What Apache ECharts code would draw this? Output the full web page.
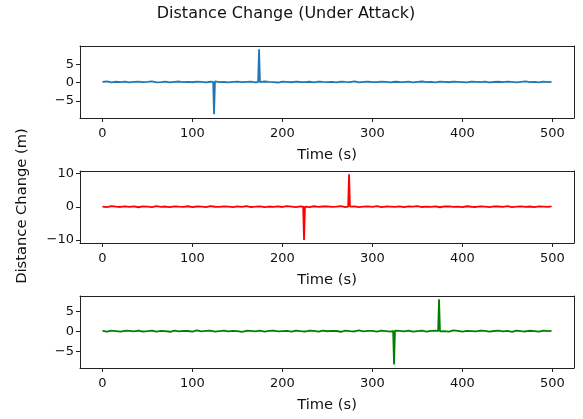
<!DOCTYPE html>
<html>
<head>
<meta charset="utf-8">
<script src="https://cdn.jsdelivr.net/npm/echarts@6/dist/echarts.min.js"></script>
<style>html,body{margin:0;padding:0;background:#fff;}#c{width:583px;height:419px;}</style>
</head>
<body>
<div id="c"></div>
<script>
var baseTime = [0,5,10,15,20,25,30,35,40,45,50,55,60,65,70,75,80,85,90,95,
100,105,110,115,120,125,130,135,140,145,150,155,160,165,170,175,180,185,190,195,
200,205,210,215,220,225,230,235,240,245,250,255,260,265,270,275,280,285,290,295,
300,305,310,315,320,325,330,335,340,345,350,355,360,365,370,375,380,385,390,395,
400,405,410,415,420,425,430,435,440,445,450,455,460,465,470,475,480,485,490,495,499];

var base1 = [0.21,0.34,0.12,0.27,0.18,0.31,0.09,0.24,0.29,0.15,
0.22,0.36,0.11,0.19,0.28,0.07,0.25,0.33,0.16,0.21,
0.13,0.3,0.24,0.1,0.27,0.35,0.18,0.2,0.08,0.26,
0.32,0.14,0.23,0.29,0.11,0.19,0.34,0.22,0.17,0.06,
0.28,0.24,0.13,0.31,0.2,0.15,0.27,0.09,0.33,0.22,
0.18,0.25,0.12,0.3,0.21,0.16,0.36,0.1,0.23,0.28,
0.14,0.19,0.32,0.24,0.08,0.27,0.2,0.15,0.3,0.12,
0.26,0.34,0.17,0.22,0.09,0.29,0.21,0.13,0.31,0.25,
0.18,0.07,0.28,0.23,0.16,0.33,0.11,0.2,0.27,0.14,
0.3,0.22,0.1,0.25,0.35,0.17,0.21,0.12,0.29,0.19,0.24];

var base2 = [0.05,-0.12,0.18,0.02,-0.07,0.14,-0.03,0.09,-0.15,0.11,
0.04,-0.09,0.16,-0.02,0.07,-0.13,0.12,0.01,-0.06,0.15,
-0.1,0.08,0.03,-0.14,0.17,0.0,-0.05,0.13,0.06,-0.11,
0.1,-0.04,0.19,-0.08,0.02,0.14,-0.12,0.07,-0.01,0.11,
-0.07,0.16,0.03,-0.13,0.09,0.05,-0.1,0.15,-0.03,0.08,
0.12,-0.06,0.01,0.17,-0.14,0.06,0.1,-0.09,0.04,0.13,
-0.02,0.18,-0.11,0.07,0.02,-0.05,0.14,-0.12,0.09,0.03,
0.16,-0.08,0.05,-0.01,0.11,-0.15,0.08,0.13,-0.04,0.06,
-0.1,0.15,0.0,-0.07,0.12,0.04,-0.13,0.1,0.07,-0.03,
0.17,-0.09,0.02,0.14,-0.06,0.08,-0.11,0.11,0.05,-0.02,0.09];

var base3 = [0.08,-0.1,0.15,0.03,-0.13,0.11,0.06,-0.05,0.17,-0.08,
0.02,0.13,-0.11,0.09,0.04,-0.14,0.16,-0.02,0.1,0.05,
-0.09,0.18,-0.04,0.07,0.12,-0.12,0.01,0.14,-0.07,0.09,
0.03,-0.15,0.11,0.06,-0.03,0.16,-0.1,0.08,0.13,-0.06,
0.04,0.1,-0.13,0.15,0.0,-0.08,0.12,0.07,-0.11,0.17,
-0.01,0.09,0.05,-0.14,0.13,0.02,-0.07,0.18,-0.04,0.1,
0.06,-0.12,0.14,0.03,-0.09,0.11,0.08,-0.05,0.16,-0.1,
0.01,0.12,-0.13,0.07,0.15,-0.02,0.04,-0.08,0.19,0.06,
-0.11,0.1,0.03,-0.06,0.14,0.09,-0.12,0.05,0.13,-0.03,
0.08,-0.14,0.17,0.02,-0.07,0.11,0.04,-0.09,0.15,0.0,0.07];

var spikeTime1 = [123,124,173,174];
var spikeVal1  = [0.25,-8.6,0.2,9.1];
var spikeTime2 = [223,224,273,274];
var spikeVal2  = [0.04,-10.0,0.06,9.8];
var spikeTime3 = [323,324,373,374];
var spikeVal3  = [0.05,-8.3,0.03,8.0];

var xTicks = [0,100,200,300,400,500];
var yTicks1 = [-5,0,5];
var yTicks2 = [-10,0,10];
var yTicks3 = [-5,0,5];

var colors = ['#1f77b4','#ff0000','#008000'];
var xLabel = 'Time (s)';
var yLabel = 'Distance Change (m)';
var titleText = 'Distance Change (Under Attack)';

function merge(bt, bv, st, sv) {
  var pts = [];
  for (var i = 0; i < bt.length; i++) pts.push([bt[i], bv[i]]);
  for (var j = 0; j < st.length; j++) pts.push([st[j], sv[j]]);
  pts.sort(function(a,b){return a[0]-b[0];});
  return pts;
}

var FONT = 'DejaVu Sans';
var tops = [46, 171, 296];
var H = 72;
var yRanges = [[-9.6,10.0],[-10.95,10.8],[-9.2,8.8]];
var yTicks = [yTicks1, yTicks2, yTicks3];
var datas = [merge(baseTime,base1,spikeTime1,spikeVal1), merge(baseTime,base2,spikeTime2,spikeVal2), merge(baseTime,base3,spikeTime3,spikeVal3)];

function fmt(v){ return String(v).replace('-', '\u2212'); }

var spine = {show: true, onZero: false, lineStyle: {color: '#222', width: 1}};
var grids = [], xAxes = [], yAxes = [], series = [];
for (var k = 0; k < 3; k++) {
  grids.push({left: 80, right: 9, top: tops[k], height: H});
  xAxes.push({
    type: 'value', gridIndex: k, position: 'bottom', min: -24.95, max: 523.95,
    axisLine: spine,
    axisTick: {show: true, inside: false, length: 4, lineStyle: {color: '#222', width: 1}, customValues: xTicks},
    axisLabel: {customValues: xTicks, fontSize: 13, color: '#111', fontFamily: FONT, margin: 9, formatter: fmt},
    splitLine: {show: false},
    name: xLabel, nameLocation: 'middle', nameGap: 30,
    nameTextStyle: {fontSize: 14.7, color: '#111', fontFamily: FONT}
  });
  xAxes.push({
    type: 'value', gridIndex: k, position: 'top', min: -24.95, max: 523.95,
    axisLine: spine, axisTick: {show: false}, axisLabel: {show: false}, splitLine: {show: false}
  });
  yAxes.push({
    type: 'value', gridIndex: k, position: 'left', min: yRanges[k][0], max: yRanges[k][1],
    axisLine: spine,
    axisTick: {show: true, inside: false, length: 4, lineStyle: {color: '#222', width: 1}, customValues: yTicks[k]},
    axisLabel: {customValues: yTicks[k], fontSize: 13, color: '#111', fontFamily: FONT, margin: 6, formatter: fmt},
    splitLine: {show: false}
  });
  yAxes.push({
    type: 'value', gridIndex: k, position: 'right', min: yRanges[k][0], max: yRanges[k][1],
    axisLine: spine, axisTick: {show: false}, axisLabel: {show: false}, splitLine: {show: false}
  });
  series.push({
    type: 'line', xAxisIndex: 2*k, yAxisIndex: 2*k, data: datas[k],
    showSymbol: false, symbol: 'none', lineStyle: {color: colors[k], width: 1.8}, itemStyle: {color: colors[k]},
    animation: false, silent: true
  });
}

var chart = echarts.init(document.getElementById('c'));
chart.setOption({
  animation: false,
  backgroundColor: '#fff',
  grid: grids, xAxis: xAxes, yAxis: yAxes, series: series,
  graphic: [
    {type: 'text', x: 286, y: 14, style: {text: titleText, fontSize: 16, fill: '#111', fontFamily: FONT, align: 'center', verticalAlign: 'middle'}},
    {type: 'text', x: 22, y: 206, rotation: Math.PI/2, style: {text: yLabel, fontSize: 14.7, fill: '#111', fontFamily: FONT, align: 'center', verticalAlign: 'middle'}}
  ]
});
</script>
</body>
</html>
